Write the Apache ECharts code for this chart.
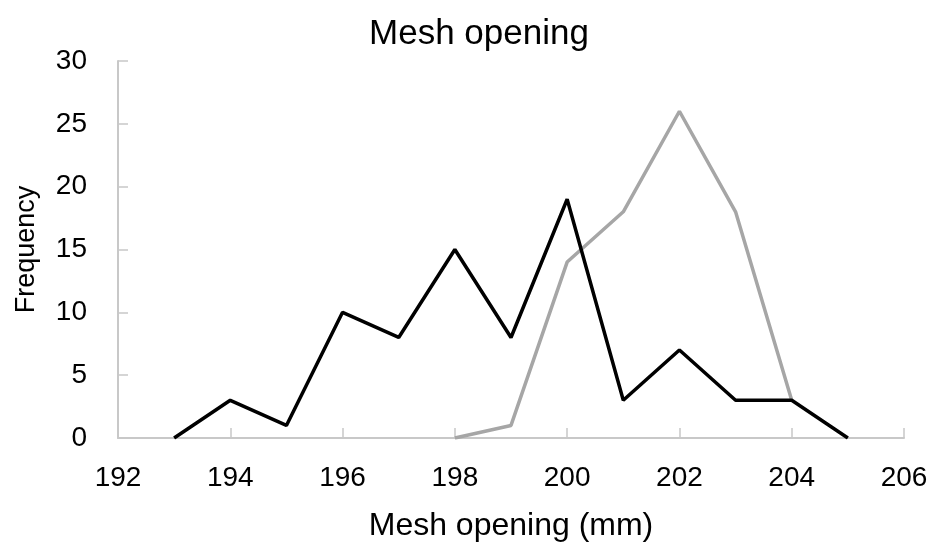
<!DOCTYPE html>
<html><head><meta charset="utf-8">
<script src="https://cdn.jsdelivr.net/npm/echarts@6/dist/echarts.min.js"></script>
<style>html,body{margin:0;padding:0;background:#fff}#c{width:935px;height:547px}</style>
</head><body><div id="c"></div>
<script>
const blackX = [193,194,195,196,197,198,199,200,201,202,203,204,205];
const blackY = [0,3,1,10,8,15,8,19,3,7,3,3,0];
const grayX = [198,199,200,201,202,203,204];
const grayY = [0,1,14,18,26,18,3];
const xTicks = [192,194,196,198,200,202,204,206];
const yTicks = [0,5,10,15,20,25,30];

const font = "'Liberation Sans', Arial, sans-serif";
const chart = echarts.init(document.getElementById('c'));
chart.setOption({
  animation: false,
  title: {text: 'Mesh opening', left: 474, textAlign: 'center', top: 12, textStyle: {fontFamily: font, fontSize: 35, fontWeight: 'normal', color: '#000'}},
  grid: {left: 118, right: 31, top: 61, bottom: 108},
  xAxis: {
    type: 'value', min: xTicks[0], max: xTicks[xTicks.length-1], interval: 2,
    name: 'Mesh opening (mm)', nameLocation: 'middle', nameGap: 72,
    nameTextStyle: {fontFamily: font, fontSize: 32, color: '#000'},
    axisLine: {lineStyle: {color: '#c8c8c8', width: 2}},
    axisTick: {inside: true, length: 10, lineStyle: {color: '#c8c8c8', width: 1.5}},
    axisLabel: {fontFamily: font, fontSize: 28, color: '#000', margin: 26},
    splitLine: {show: false}
  },
  yAxis: {
    type: 'value', min: yTicks[0], max: yTicks[yTicks.length-1], interval: 5,
    name: 'Frequency', nameLocation: 'middle', nameGap: 78, nameRotate: 90,
    nameTextStyle: {fontFamily: font, fontSize: 27, color: '#000'},
    axisLine: {show: true, lineStyle: {color: '#c8c8c8', width: 2}},
    axisTick: {show: true, inside: true, length: 10, lineStyle: {color: '#c8c8c8', width: 1.5}},
    axisLabel: {fontFamily: font, fontSize: 28, color: '#000', margin: 31},
    splitLine: {show: false}
  },
  series: [
    {type: 'line', data: grayX.map((x,i)=>[x, grayY[i]]), symbol: 'none', lineStyle: {color: '#a6a6a6', width: 3.5}, z: 2},
    {type: 'line', data: blackX.map((x,i)=>[x, blackY[i]]), symbol: 'none', lineStyle: {color: '#000', width: 3.5}, z: 3}
  ]
});
</script></body></html>
